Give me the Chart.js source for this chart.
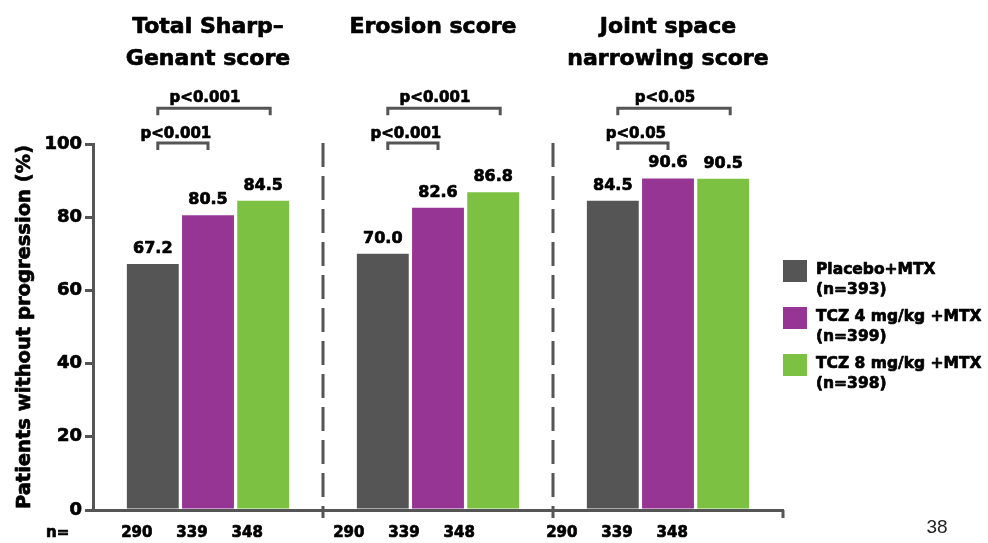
<!DOCTYPE html>
<html>
<head>
<meta charset="utf-8">
<script src="https://cdn.jsdelivr.net/npm/chart.js@4.4.1/dist/chart.umd.min.js"></script>
<style>
  html, body { margin: 0; padding: 0; background: #ffffff; }
  #wrap { position: relative; width: 988px; height: 543px; }
  canvas { display: block; }
</style>
</head>
<body>
<div id="wrap"><canvas id="chart" width="988" height="543"></canvas></div>
<script>
// Score groups (each title may span two lines)
const categories = [
  ["Total Sharp\u2013", "Genant score"],
  ["Erosion score"],
  ["Joint space", "narrowing score"]
];

// Treatment arms
const seriesNames = ["Placebo+MTX", "TCZ 4 mg/kg +MTX", "TCZ 8 mg/kg +MTX"];
const seriesN = ["(n=393)", "(n=399)", "(n=398)"];

// Patients without progression (%)
const placeboValues = [67.2, 70.0, 84.5];
const tcz4Values = [80.5, 82.6, 90.6];
const tcz8Values = [84.5, 86.8, 90.5];

// Evaluable patients per bar, listed by group
const nPlacebo = [290, 290, 290];
const nTcz4 = [339, 339, 339];
const nTcz8 = [348, 348, 348];

// Significance: [placebo vs 4 mg/kg, placebo vs 8 mg/kg]
const pSmall = ["p<0.001", "p<0.001", "p<0.05"];
const pBig = ["p<0.001", "p<0.001", "p<0.05"];

// Y axis ticks
const yTicks = [0, 20, 40, 60, 80, 100];
const yTitle = "Patients without progression (%)";

const colors = ["#555555", "#963594", "#7cc142"];
const INK = "#555555";
const BOLD = "DejaVu Sans";
const HEAVY = 0.7; // extra stroke to thicken the bold face

const seriesValues = [placeboValues, tcz4Values, tcz8Values];
const seriesCounts = [nPlacebo, nTcz4, nTcz8];

function heavyText(ctx, text, x, y) {
  ctx.strokeStyle = ctx.fillStyle;
  ctx.lineWidth = HEAVY;
  ctx.lineJoin = "round";
  ctx.strokeText(text, x, y);
  ctx.fillText(text, x, y);
}

const annotations = {
  id: "annotations",
  afterDatasetsDraw(chart) {
    const ctx = chart.ctx;
    const area = chart.chartArea;
    const x = chart.scales.x;
    const y = chart.scales.y;
    const metas = [0, 1, 2].map(i => chart.getDatasetMeta(i));

    ctx.save();

    // dashed separators between score groups
    ctx.strokeStyle = INK;
    ctx.lineWidth = 3;
    ctx.setLineDash([24, 9]);
    for (let i = 0; i < categories.length - 1; i++) {
      const sx = Math.round((x.getPixelForValue(i) + x.getPixelForValue(i + 1)) / 2);
      ctx.beginPath();
      ctx.moveTo(sx, area.top - 1);
      ctx.lineTo(sx, area.bottom + 8);
      ctx.stroke();
    }
    ctx.setLineDash([]);

    // closing tick at the right end of the x axis
    ctx.beginPath();
    ctx.moveTo(area.right, area.bottom);
    ctx.lineTo(area.right, area.bottom + 8);
    ctx.stroke();

    // significance brackets
    const ySmall = y.getPixelForValue(100.3);
    const yBig = y.getPixelForValue(109.8);
    const leg = 7;
    function bracket(x1, x2, yy) {
      ctx.strokeStyle = INK;
      ctx.lineWidth = 3;
      ctx.lineJoin = "miter";
      ctx.beginPath();
      ctx.moveTo(x1, yy + leg);
      ctx.lineTo(x1, yy);
      ctx.lineTo(x2, yy);
      ctx.lineTo(x2, yy + leg);
      ctx.stroke();
    }

    ctx.fillStyle = "#000";
    ctx.textAlign = "center";
    ctx.textBaseline = "alphabetic";

    for (let i = 0; i < categories.length; i++) {
      const left = metas[0].data[i].x + 5;
      const midR = metas[1].data[i].x;
      const farR = metas[2].data[i].x + 7;
      bracket(left, midR, ySmall);
      bracket(left, farR, yBig);
      ctx.fillStyle = "#000";
      ctx.font = "bold 15px '" + BOLD + "'";
      heavyText(ctx, pSmall[i], (left + midR) / 2 - 7, ySmall - 5);
      heavyText(ctx, pBig[i], (left + farR) / 2 - 9, yBig - 6);
    }

    // value labels above bars
    ctx.fillStyle = "#000";
    ctx.font = "bold 16px '" + BOLD + "'";
    metas.forEach((meta, s) => {
      meta.data.forEach((bar, i) => {
        heavyText(ctx, seriesValues[s][i].toFixed(1), bar.x, bar.y - 11);
      });
    });

    // group titles
    ctx.font = "bold 22px '" + BOLD + "'";
    for (let i = 0; i < categories.length; i++) {
      const cx = x.getPixelForValue(i) - (i === 1 ? 5 : 0);
      categories[i].forEach((line, k) => {
        heavyText(ctx, line, cx, 33 + k * 32);
      });
    }

    // y axis title
    ctx.save();
    ctx.translate(25, (area.top + area.bottom) / 2);
    ctx.rotate(-Math.PI / 2);
    ctx.font = "bold 19.5px '" + BOLD + "'";
    ctx.textBaseline = "middle";
    heavyText(ctx, yTitle, 0, 0);
    ctx.restore();

    // n per bar under the axis
    ctx.fillStyle = "#000";
    ctx.font = "bold 15px '" + BOLD + "'";
    ctx.textAlign = "left";
    heavyText(ctx, "n=", 46, 537);
    ctx.textAlign = "center";
    const groupShift = [-16, -34, -51];
    metas.forEach((meta, s) => {
      meta.data.forEach((bar, i) => {
        heavyText(ctx, String(seriesCounts[s][i]), bar.x + groupShift[i], 537);
      });
    });

    // legend
    ctx.textAlign = "left";
    ctx.textBaseline = "middle";
    seriesNames.forEach((name, s) => {
      const top = 260 + s * 47;
      ctx.fillStyle = colors[s];
      ctx.fillRect(area.right, top, 24, 22);
      ctx.fillStyle = "#000";
      ctx.font = "bold 15.5px '" + BOLD + "'";
      heavyText(ctx, name, area.right + 33, top + 10);
      heavyText(ctx, seriesN[s], area.right + 33, top + 30);
    });

    // page number
    ctx.font = "19px 'Liberation Sans'";
    ctx.fillStyle = "#222";
    ctx.textAlign = "center";
    ctx.fillText("38", 937, 528);

    ctx.restore();
  }
};

new Chart(document.getElementById("chart"), {
  type: "bar",
  data: {
    labels: categories,
    datasets: seriesNames.map((name, s) => ({
      label: name,
      data: seriesValues[s],
      backgroundColor: colors[s],
      borderWidth: 0,
      categoryPercentage: 0.72,
      barPercentage: 0.94
    }))
  },
  options: {
    responsive: false,
    animation: false,
    events: [],
    layout: { padding: { left: 0, right: 205, top: 144, bottom: 0 } },
    plugins: {
      legend: { display: false },
      tooltip: { enabled: false }
    },
    scales: {
      x: {
        grid: { display: false },
        ticks: { display: false },
        border: { display: true, color: INK, width: 3, z: 1 },
        afterFit(scale) { scale.height = 33; }
      },
      y: {
        min: 0,
        max: 100,
        afterBuildTicks(scale) { scale.ticks = yTicks.map(v => ({ value: v })); },
        grid: {
          drawOnChartArea: false,
          drawTicks: true,
          tickLength: 8,
          color: INK,
          lineWidth: 3
        },
        border: { display: true, color: INK, width: 3 },
        ticks: {
          color: "#000",
          padding: 3,
          textStrokeColor: "#000",
          textStrokeWidth: HEAVY,
          font: { family: BOLD, size: 18, weight: "bold" }
        },
        afterFit(scale) { scale.width = 93; }
      }
    }
  },
  plugins: [annotations]
});
</script>
</body>
</html>
